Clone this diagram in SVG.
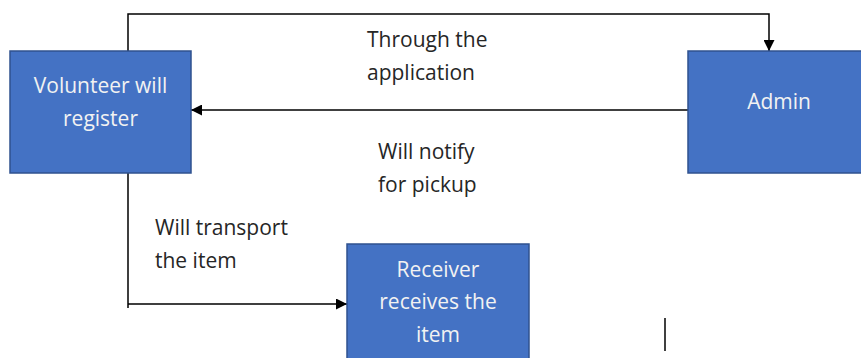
<svg xmlns="http://www.w3.org/2000/svg" width="861" height="358" viewBox="0 0 861 358">
<defs>
<style>
.box{fill:#4472C4;stroke:#2F528F;stroke-width:1.5}
.bt{font-family:"Open Sans","Liberation Sans",sans-serif;font-size:21px;fill:#F2F2F2;text-anchor:middle}
.lt{font-family:"Open Sans","Liberation Sans",sans-serif;font-size:21px;fill:#262626}
.ln{fill:none;stroke:#000;stroke-width:1.5}
</style>
<marker id="ah" viewBox="0 0 10 10" refX="10" refY="5" markerWidth="12" markerHeight="11" markerUnits="userSpaceOnUse" orient="auto">
<path d="M0,0 L10,5 L0,10 Z" fill="#000"/>
</marker>
</defs>
<rect width="861" height="358" fill="#fff"/>
<g id="connectors">
<path class="ln" d="M128,51 V14 H769 V51" marker-end="url(#ah)"/>
<path class="ln" d="M688,110 H191" marker-end="url(#ah)"/>
<path class="ln" d="M128,173 V308 M128,304 H347" marker-end="url(#ah)"/>
<path class="ln" d="M665,318 V351"/>
</g>
<g id="volunteer">
<rect class="box" x="10" y="51" width="181" height="122"/>
<text class="bt" x="100.5" y="93">Volunteer will</text>
<text class="bt" x="100.5" y="126">register</text>
</g>
<g id="admin">
<rect class="box" x="688" y="51" width="180" height="122"/>
<text class="bt" x="779" y="109">Admin</text>
</g>
<g id="receiver">
<rect class="box" x="347" y="244" width="182" height="120"/>
<text class="bt" x="438" y="277">Receiver</text>
<text class="bt" x="438" y="309">receives the</text>
<text class="bt" x="438" y="342">item</text>
</g>
<g id="labels">
<text class="lt" x="367" y="47">Through the</text>
<text class="lt" x="367" y="80">application</text>
<text class="lt" x="378" y="159">Will notify</text>
<text class="lt" x="378" y="192">for pickup</text>
<text class="lt" x="155" y="235">Will transport</text>
<text class="lt" x="155" y="268">the item</text>
</g>
</svg>
